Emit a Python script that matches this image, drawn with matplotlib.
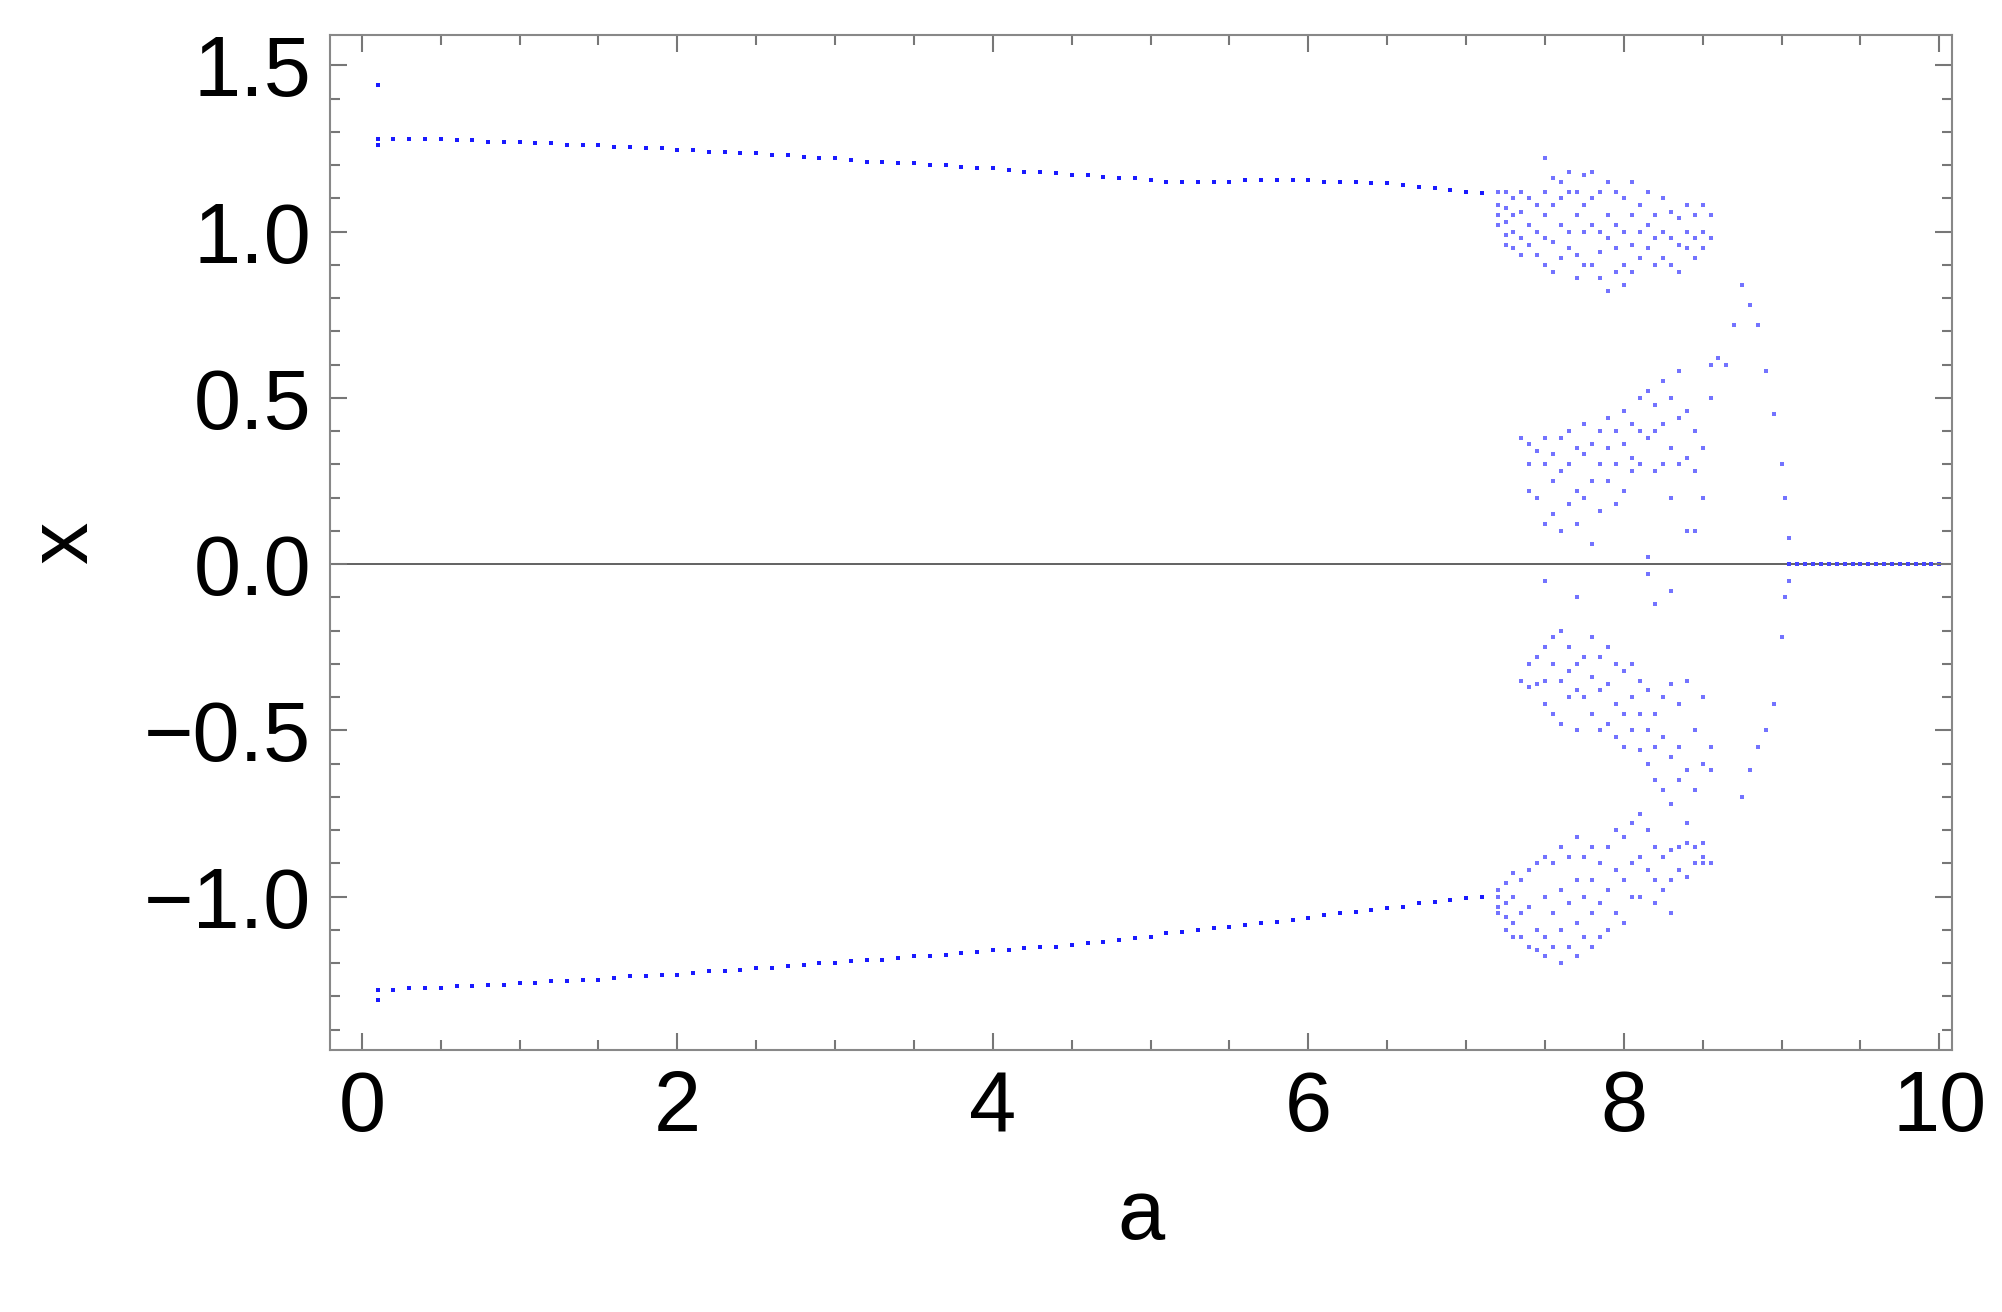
import numpy as np
import matplotlib.pyplot as plt

plt.rcParams['font.family'] = ['Liberation Sans', 'DejaVu Sans']

# stable two-branch part, sampled every 0.1 in a
a_stable = np.round(np.arange(0.1, 7.15, 0.1), 2)
x_upper = [1.28, 1.28, 1.28, 1.28, 1.28, 1.275, 1.275, 1.27, 1.27, 1.27,
           1.265, 1.265, 1.26, 1.26, 1.26, 1.255, 1.255, 1.25, 1.25, 1.245,
           1.245, 1.24, 1.24, 1.235, 1.235, 1.23, 1.23, 1.225, 1.22, 1.22,
           1.215, 1.21, 1.21, 1.205, 1.205, 1.20, 1.20, 1.195, 1.19, 1.19,
           1.185, 1.18, 1.18, 1.175, 1.17, 1.17, 1.165, 1.16, 1.16, 1.155,
           1.15, 1.15, 1.15, 1.15, 1.15, 1.155, 1.155, 1.155, 1.155, 1.155,
           1.15, 1.15, 1.15, 1.145, 1.145, 1.14, 1.135, 1.13, 1.125, 1.12,
           1.115]
x_lower = [-1.28, -1.28, -1.275, -1.275, -1.275, -1.27, -1.27, -1.265, -1.265, -1.26,
           -1.26, -1.255, -1.255, -1.25, -1.25, -1.245, -1.24, -1.24, -1.235, -1.235,
           -1.23, -1.225, -1.225, -1.22, -1.215, -1.215, -1.21, -1.205, -1.20, -1.20,
           -1.195, -1.19, -1.19, -1.185, -1.18, -1.18, -1.175, -1.17, -1.165, -1.16,
           -1.16, -1.155, -1.15, -1.15, -1.145, -1.14, -1.135, -1.13, -1.125, -1.12,
           -1.11, -1.105, -1.10, -1.095, -1.09, -1.085, -1.08, -1.075, -1.07, -1.065,
           -1.055, -1.05, -1.045, -1.04, -1.035, -1.03, -1.02, -1.015, -1.01, -1.005,
           -1.0]

# outliers at the start
a_start = [0.1, 0.1, 0.1]
x_start = [1.44, 1.26, -1.31]

# chaotic region, columns of x values per a
a_chaos = [7.2, 7.25, 7.3, 7.35, 7.4, 7.45, 7.5, 7.55, 7.6, 7.65,
           7.7, 7.75, 7.8, 7.85, 7.9, 7.95, 8.0, 8.05, 8.1, 8.15,
           8.2, 8.25, 8.3, 8.35, 8.4, 8.45, 8.5, 8.55]
x_chaos = [
    [1.12, 1.08, 1.05, 1.02, -0.98, -1.0, -1.03, -1.05],
    [1.12, 1.07, 1.03, 0.99, 0.96, -0.96, -1.02, -1.06, -1.1],
    [1.1, 1.05, 1.0, 0.95, -0.93, -1.0, -1.08, -1.12],
    [1.12, 1.06, 0.98, 0.93, 0.38, -0.35, -0.95, -1.05, -1.12],
    [1.1, 1.02, 0.96, 0.36, 0.3, 0.22, -0.3, -0.37, -0.92, -1.03, -1.15],
    [1.08, 1.0, 0.93, 0.34, 0.2, -0.28, -0.36, -0.9, -1.1, -1.16],
    [1.22, 1.12, 1.05, 0.98, 0.9, 0.38, 0.3, 0.12, -0.05, -0.25, -0.35, -0.42, -0.88, -1.0, -1.12, -1.18],
    [1.16, 1.08, 0.97, 0.88, 0.33, 0.25, 0.15, -0.22, -0.3, -0.45, -0.9, -1.05, -1.15],
    [1.15, 1.1, 1.02, 0.92, 0.38, 0.28, 0.1, -0.2, -0.35, -0.48, -0.85, -0.98, -1.1, -1.2],
    [1.18, 1.12, 1.0, 0.95, 0.4, 0.3, 0.18, -0.25, -0.32, -0.4, -0.88, -1.02, -1.15],
    [1.12, 1.05, 0.93, 0.86, 0.35, 0.22, 0.12, -0.1, -0.3, -0.38, -0.5, -0.82, -0.95, -1.08, -1.18],
    [1.17, 1.08, 1.0, 0.9, 0.42, 0.33, 0.2, -0.28, -0.4, -0.88, -1.0, -1.12],
    [1.18, 1.1, 1.02, 0.9, 0.36, 0.25, 0.06, -0.22, -0.34, -0.45, -0.85, -0.95, -1.05, -1.15],
    [1.12, 1.0, 0.94, 0.86, 0.4, 0.3, 0.16, -0.28, -0.38, -0.5, -0.9, -1.02, -1.12],
    [1.15, 1.05, 0.98, 0.82, 0.44, 0.35, 0.25, -0.25, -0.36, -0.48, -0.85, -0.98, -1.1],
    [1.12, 1.02, 0.95, 0.88, 0.4, 0.3, 0.18, -0.3, -0.42, -0.52, -0.8, -0.92, -1.05],
    [1.1, 1.0, 0.9, 0.84, 0.46, 0.36, 0.22, -0.32, -0.45, -0.55, -0.82, -0.95, -1.08],
    [1.15, 1.05, 0.96, 0.88, 0.42, 0.32, 0.28, -0.3, -0.4, -0.5, -0.78, -0.9, -1.0],
    [1.08, 1.0, 0.92, 0.5, 0.4, 0.3, -0.35, -0.45, -0.56, -0.75, -0.88, -1.0],
    [1.12, 1.02, 0.95, 0.52, 0.38, 0.02, -0.03, -0.38, -0.5, -0.6, -0.8, -0.92],
    [1.05, 0.98, 0.9, 0.48, 0.4, 0.28, -0.12, -0.45, -0.55, -0.65, -0.85, -0.95, -1.02],
    [1.1, 1.0, 0.92, 0.55, 0.42, 0.3, -0.4, -0.52, -0.68, -0.88, -0.98],
    [1.06, 0.98, 0.9, 0.5, 0.35, 0.2, -0.08, -0.36, -0.58, -0.72, -0.86, -0.95, -1.05],
    [1.04, 0.96, 0.88, 0.58, 0.44, 0.3, -0.42, -0.55, -0.65, -0.85, -0.92],
    [1.08, 1.0, 0.95, 0.46, 0.32, 0.1, -0.35, -0.62, -0.78, -0.84, -0.94],
    [1.05, 0.98, 0.92, 0.4, 0.28, 0.1, -0.5, -0.68, -0.85, -0.9],
    [1.08, 1.0, 0.95, 0.35, 0.2, -0.4, -0.6, -0.84, -0.9, -0.88],
    [1.05, 0.98, 0.5, 0.6, -0.55, -0.62, -0.9],
]

# tail: collapse to zero
a_tail = [8.6, 8.65, 8.7, 8.75, 8.75, 8.8, 8.8, 8.85, 8.85, 8.9, 8.9, 8.95, 8.95,
          9.0, 9.0, 9.02, 9.02, 9.05, 9.05]
x_tail = [0.62, 0.6, 0.72, 0.84, -0.7, 0.78, -0.62, 0.72, -0.55, 0.58, -0.5, 0.45, -0.42,
          0.3, -0.22, 0.2, -0.1, 0.08, -0.05]
a_zero = np.round(np.arange(9.05, 10.05, 0.05), 2)

fig = plt.figure(figsize=(20.02, 13.12), dpi=100)
ax = fig.add_axes([0.165, 0.2, 0.81, 0.773])

kw = dict(marker='s', s=10, color='#1a1aff', linewidths=0)
ax.scatter(a_stable, x_upper, **kw)
ax.scatter(a_stable, x_lower, **kw)
ax.scatter(a_start, x_start, **kw)
ca = [a for a, col in zip(a_chaos, x_chaos) for _ in col]
cx = [v for col in x_chaos for v in col]
ax.scatter(ca, cx, marker='s', s=9, color='#4444ff', alpha=0.75, linewidths=0)
ax.scatter(a_tail, x_tail, marker='s', s=9, color='#4444ff', alpha=0.75, linewidths=0)
ax.scatter(a_zero, np.zeros(len(a_zero)), marker='s', s=6, color='#4444ff', linewidths=0)

ax.axhline(0, color='#555555', lw=1.3, zorder=0)
ax.set_xlim(-0.2, 10.08)
ax.set_ylim(-1.46, 1.59)
ax.set_xticks([0, 2, 4, 6, 8, 10])
ax.set_yticks([-1.0, -0.5, 0.0, 0.5, 1.0, 1.5])
ax.set_yticklabels(['\u22121.0', '\u22120.5', '0.0', '0.5', '1.0', '1.5'])
ax.set_xticks(np.arange(-0.0, 10.01, 0.5), minor=True)
ax.set_yticks(np.arange(-1.4, 1.6, 0.1), minor=True)
ax.tick_params(which='both', direction='in', top=True, right=True, colors='#777777',
               labelcolor='black', labelsize=61, width=1.5)
ax.tick_params(which='major', length=12, pad=14)
ax.tick_params(which='minor', length=7)
for s in ax.spines.values():
    s.set_color('#888888')
    s.set_linewidth(1.5)
ax.set_xlabel('a', fontsize=61, labelpad=20)
ax.set_ylabel('x', fontsize=61, labelpad=28)

fig.savefig('out.png')
